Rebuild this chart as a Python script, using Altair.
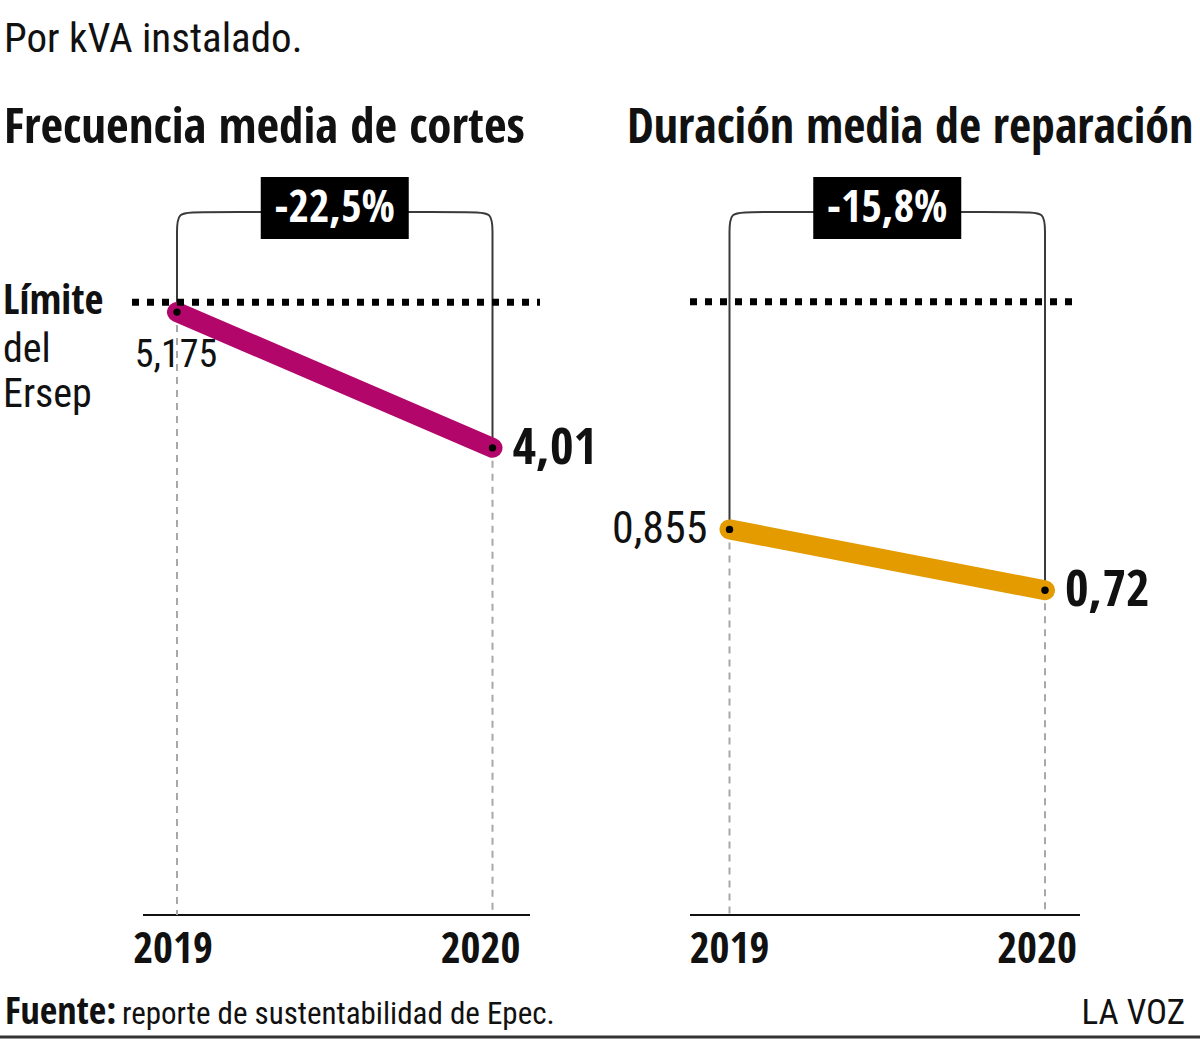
import altair as alt
import pandas as pd

# ---------------- data ----------------
years = [2019, 2020]
freq_values = [5.175, 4.01]      # Frecuencia media de cortes
dur_values = [0.855, 0.72]       # Duración media de reparación
freq_limit = 5.26                # Límite del Ersep (frecuencia)
dur_limit = 1.36                 # Límite del Ersep (duración)
panel_titles = ["Frecuencia media de cortes", "Duración media de reparación"]
subtitle = "Por kVA instalado."
limit_lines = ["Límite", "del", "Ersep"]
source_bold = "Fuente:"
source_text = "reporte de sustentabilidad de Epec."
brand = "LA VOZ"
colors = ["#b3066b", "#e39b00"]

FONT = "'Open Sans Condensed', 'Roboto Condensed', 'Liberation Sans Narrow', 'DejaVu Sans Condensed', 'Open Sans', sans-serif"
REG_FONT = "'Roboto Condensed', 'Liberation Sans Narrow', 'DejaVu Sans Condensed', 'Noto Sans', sans-serif"
INK = "#111111"
W, H = 1200, 1039
ZERO_Y = 915          # pixel row of value 0 (baseline)
BRACKET_TOP = 212     # pixel row of bracket
R = 20                # bracket corner control distance (px)


def fmt(v):
    return f"{v}".replace(".", ",")


def pct(a, b):
    return f"{(b - a) / a * 100:.1f}%".replace(".", ",")


def txt(**kw):
    return dict(font=REG_FONT, fontWeight="normal", color=INK, **kw)


def panel_layers(values, limit, color, x0px, ppy, ppu, base_px, lim_px,
                 title, title_x, title_size, first_side, first_size, year_dx):
    xs = alt.Scale(domain=[years[0] - x0px / ppy, years[0] + (W - x0px) / ppy],
                   nice=False, zero=False)
    ys = alt.Scale(domain=[-(H - ZERO_Y) / ppu, ZERO_Y / ppu],
                   nice=False, zero=False)
    X = alt.X("year:Q", scale=xs, axis=None)
    Y = alt.Y("value:Q", scale=ys, axis=None)

    df = pd.DataFrame({"year": years, "value": values,
                       "label": [fmt(v) for v in values],
                       "ylabel": [str(y) for y in years]})
    mid = (years[0] + years[1]) / 2
    bdf = pd.DataFrame({"year": [mid], "label": [pct(values[0], values[1])]})
    ldf = pd.DataFrame({"value": [limit]})
    zdf = pd.DataFrame({"value": [0.0]})

    # bracket path: from each point up to a common top, with rounded corners
    top_v = (ZERO_Y - BRACKET_TOP) / ppu
    ry, rx = R / ppu, R / ppy
    bx = [years[0], years[0], years[0], years[0], years[0] + rx,
          years[1] - rx, years[1], years[1], years[1], years[1]]
    by = [values[0], top_v - 2 * ry, top_v - ry, top_v, top_v,
          top_v, top_v, top_v - ry, top_v - 2 * ry, values[1]]
    brdf = pd.DataFrame({"year": bx, "value": by, "o": list(range(len(bx)))})

    L = []
    # baseline
    L.append(alt.Chart(zdf).mark_rule(color=INK, strokeWidth=2).encode(
        y=Y, x=alt.value(base_px[0]), x2=alt.value(base_px[1])))
    # dashed guides
    L.append(alt.Chart(df).mark_rule(color="#a8a8a8", strokeWidth=2,
                                     strokeDash=[7, 6]).encode(
        x=X, y=Y, y2=alt.Y2(datum=0)))
    # bracket
    L.append(alt.Chart(brdf).mark_line(color="#3a3a3a", strokeWidth=2,
                                       interpolate="basis").encode(
        x=X, y=Y, order=alt.Order("o:Q")))
    # percent box
    L.append(alt.Chart(bdf).mark_rect(color="#000000", xOffset=-74,
                                      x2Offset=74).encode(
        x=X, x2=alt.X2("year"), y=alt.value(177), y2=alt.value(239)))
    L.append(alt.Chart(bdf).mark_text(color="white", font=FONT,
                                      fontWeight="bold", fontSize=44,
                                      baseline="middle", align="center",
                                      dy=1).encode(
        x=X, y=alt.value(208), text="label:N"))
    # main line
    L.append(alt.Chart(df).mark_line(color=color, strokeWidth=20,
                                     strokeCap="round").encode(x=X, y=Y))
    # limit line
    L.append(alt.Chart(ldf).mark_rule(color="#000000", strokeWidth=7,
                                      strokeDash=[7, 8]).encode(
        y=Y, x=alt.value(lim_px[0]), x2=alt.value(lim_px[1])))
    # points
    L.append(alt.Chart(df).mark_circle(color="#000000", size=55,
                                       opacity=1).encode(x=X, y=Y))
    # year labels
    for i in range(2):
        L.append(alt.Chart(df.iloc[[i]]).mark_text(
            font=FONT, fontSize=43, fontWeight="bold", color=INK,
            align="center", baseline="alphabetic", dx=year_dx[i]).encode(
            x=X, y=alt.value(963), text="ylabel:N"))
    # value labels
    if first_side == "below":
        L.append(alt.Chart(df.iloc[[0]]).mark_text(**txt(
            fontSize=first_size, align="center", baseline="middle", dy=44,
            dx=-1)).encode(x=X, y=Y, text="label:N"))
    else:
        L.append(alt.Chart(df.iloc[[0]]).mark_text(**txt(
            fontSize=first_size, align="right", baseline="middle", dx=-22,
            dy=1)).encode(x=X, y=Y, text="label:N"))
    L.append(alt.Chart(df.iloc[[1]]).mark_text(
        font=FONT, fontSize=51, fontWeight="bold", color=INK, align="left",
        baseline="middle", dx=20, dy=1).encode(x=X, y=Y, text="label:N"))
    # panel title
    L.append(alt.Chart(zdf).mark_text(
        text=title, font=FONT, fontSize=title_size, fontWeight="bold",
        color=INK, align="left", baseline="alphabetic").encode(
        x=alt.value(title_x), y=alt.value(143)))
    return L


layers = []
layers += panel_layers(freq_values, freq_limit, colors[0], 177, 315.5, 116.5,
                       (143, 530), (132, 540), panel_titles[0], 4, 49,
                       "below", 38, (-4, -12))
layers += panel_layers(dur_values, dur_limit, colors[1], 729.5, 315.5, 451.0,
                       (690, 1080), (690, 1080), panel_titles[1], 627, 48,
                       "left", 44, (0, -8))

one = pd.DataFrame({"k": [0]})


def note(text, x, y, size, bold=False, align="left", **extra):
    if bold:
        mk = dict(font=FONT, fontWeight="bold", color=INK, fontSize=size,
                  align=align, baseline="alphabetic")
    else:
        mk = txt(fontSize=size, align=align, baseline="alphabetic")
    mk.update(extra)
    return alt.Chart(one).mark_text(text=text, **mk).encode(
        x=alt.value(x), y=alt.value(y))


layers += [
    note(subtitle, 4, 52, 41),
    note(limit_lines[0], 3, 314, 41, bold=True),
    note(limit_lines[1:], 3, 362, 40, lineHeight=45),
    note(source_bold, 5, 1024, 38, bold=True),
    note(source_text, 122, 1024, 31),
    note(brand, 1185, 1024, 35, align="right"),
    alt.Chart(one).mark_rule(color="#333333", strokeWidth=3).encode(
        x=alt.value(0), x2=alt.value(W), y=alt.value(1037)),
]

chart = alt.layer(*layers).resolve_scale(
    x="independent", y="independent"
).properties(
    width=W, height=H, padding=0, autosize="none", background="white"
).configure_view(strokeWidth=0)

chart.save("out.html", embed_options={"renderer": "svg", "actions": False})
